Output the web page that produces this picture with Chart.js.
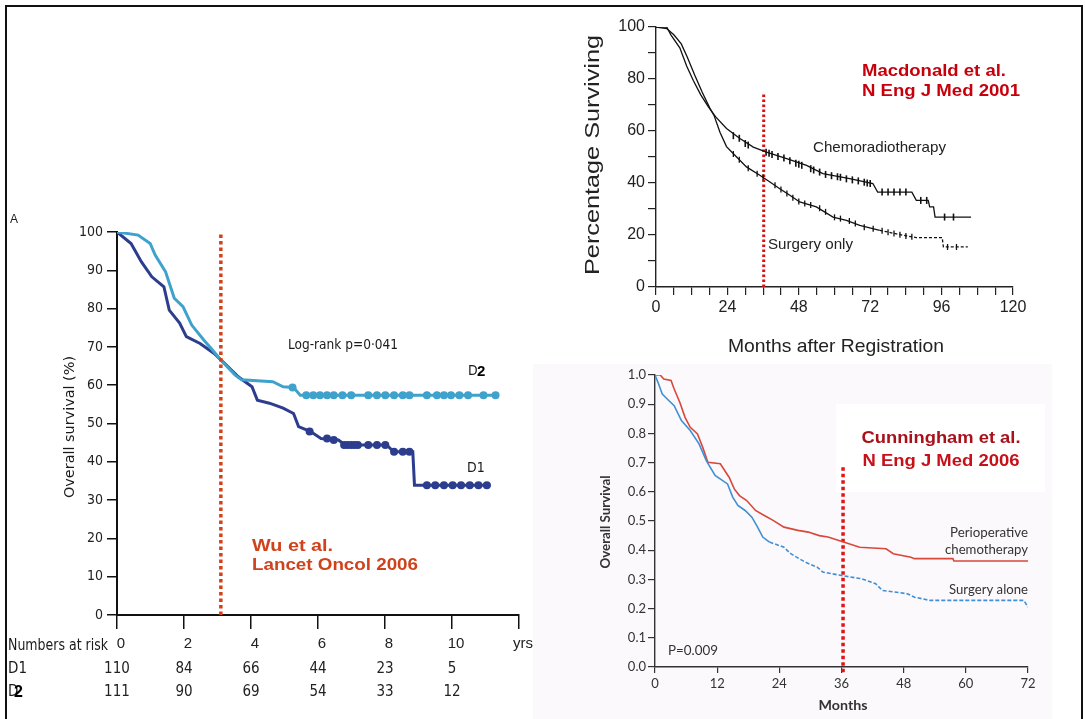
<!DOCTYPE html>
<html lang="en">
<head>
<meta charset="UTF-8">
<title>Gastric cancer survival trials</title>
<script src="https://cdn.jsdelivr.net/npm/chart.js"></script>
<style>
  html, body { margin: 0; padding: 0; background: #fff; }
  #page { position: relative; width: 1085px; height: 719px; overflow: hidden; background: #fff; }
  #frame { position: absolute; left: 5px; top: 5px; width: 1078px; height: 760px; border: 2px solid #111; box-sizing: border-box; }
  #tint { position: absolute; left: 533px; top: 364px; width: 519px; height: 355px; background: #fcf9fc; }
  canvas { position: absolute; }
  #wu { left: 0; top: 200px; }
  #mac { left: 540px; top: 0; }
  #cun { left: 540px; top: 362px; }
</style>
</head>
<body>
<div id="page">
  <div id="tint"></div>
  <canvas id="wu" width="540" height="519"></canvas>
  <canvas id="mac" width="540" height="362"></canvas>
  <canvas id="cun" width="545" height="357"></canvas>
  <div id="frame"></div>
</div>
<script>
// ---------- Wu et al. (years, % surviving) ----------
const wuD1Years = [0, 0.42, 0.73, 1.04, 1.40, 1.56, 1.87, 2.07, 2.48, 2.90, 3.21, 3.62, 4.03, 4.19, 4.55, 4.96, 5.27, 5.42, 5.78, 6.09, 6.61, 6.81, 8.05, 8.26, 8.83, 8.88, 11.15];
const wuD1Surv  = [100, 97, 92.2, 88.3, 85.7, 79.6, 76.2, 72.7, 70.9, 68.3, 65.7, 62.2, 59.6, 56.1, 55.3, 54.0, 52.6, 49.2, 47.9, 46.1, 45.7, 44.4, 44.4, 42.6, 42.6, 33.9, 33.9];
const wuD2Years = [0, 0.63, 0.99, 1.14, 1.45, 1.71, 1.97, 2.23, 2.59, 2.85, 3.10, 3.52, 3.72, 4.65, 4.96, 5.27, 5.47, 11.35];
const wuD2Surv  = [100, 99.2, 97, 94, 89.6, 82.7, 80.5, 75.7, 71.8, 69.2, 66.6, 62.7, 61.4, 60.9, 59.6, 59.4, 57.4, 57.4];
const wuD1CensorYears = [5.75, 6.27, 6.47, 6.78, 6.88, 6.99, 7.09, 7.19, 7.50, 7.76, 8.01, 8.27, 8.53, 8.73, 9.25, 9.50, 9.76, 10.02, 10.27, 10.53, 10.79, 11.04];
const wuD1CensorSurv  = [47.9, 46.1, 45.7, 44.4, 44.4, 44.4, 44.4, 44.4, 44.4, 44.4, 44.4, 42.6, 42.6, 42.6, 33.9, 33.9, 33.9, 33.9, 33.9, 33.9, 33.9, 33.9];
const wuD2CensorYears = [5.24, 5.65, 5.86, 6.06, 6.27, 6.47, 6.73, 6.99, 7.50, 7.76, 8.01, 8.27, 8.53, 8.73, 9.25, 9.55, 9.76, 9.97, 10.22, 10.48, 10.94, 11.30];
const wuD2CensorSurv  = [59.4, 57.4, 57.4, 57.4, 57.4, 57.4, 57.4, 57.4, 57.4, 57.4, 57.4, 57.4, 57.4, 57.4, 57.4, 57.4, 57.4, 57.4, 57.4, 57.4, 57.4, 57.4];
const wuCutYears = [3.1, 3.1];
const wuCutSurv  = [0, 100];
const wuRiskYears = [0, 2, 4, 6, 8, 10];
const wuRiskD1 = [110, 84, 66, 44, 23, 5];
const wuRiskD2 = [111, 90, 69, 54, 33, 12];

// ---------- Macdonald et al. (months, % surviving) ----------
const macChemoMonths = [0, 3.6, 5, 8, 10.3, 12.5, 15, 17.5, 20, 23.7, 28.2, 32.7, 37.1, 43.9, 50.6, 56.1, 65.1, 72.9, 74.5, 86, 87.5, 91.5, 92, 93.3, 93.8, 105.9];
const macChemoSurv   = [100, 100, 97, 92, 85, 79.5, 74, 69.5, 65.5, 61, 57.1, 53.8, 51.9, 49.4, 46.8, 43.6, 41.7, 39.8, 36.5, 36.5, 33.3, 33.3, 30.8, 30.8, 26.9, 26.9];
const macSurgMonths  = [0, 3.6, 6, 8.5, 10.5, 13, 15.5, 18, 19.5, 21.5, 23.7, 27.1, 30.4, 34.9, 38.3, 41.6, 45, 48.3, 53.9, 59.5, 64, 68.5, 75.2, 83, 87.5, 96.2, 96.6, 104.8];
const macSurgSurv    = [100, 99.4, 97, 93.5, 88.5, 81.5, 75, 69, 66, 59.5, 54, 50, 46.2, 43, 40.4, 37.8, 35.3, 32.7, 30.8, 26.9, 25.6, 23.7, 21.8, 19.9, 19, 19, 15.4, 15.4];
const macChemoCensorMonths = [26, 28, 30, 31, 37, 38, 39, 41, 43, 45, 47, 48, 49, 52, 53, 55, 57, 59, 61, 62, 64, 66, 68, 70, 71, 72, 76, 78, 80, 82, 84, 89, 91, 97, 100];
const macChemoCensorSurv   = [58.2, 57.2, 55.2, 54.6, 51.8, 51.4, 51, 50.2, 49.6, 48.6, 47.6, 47.2, 46.8, 45.5, 45, 44.2, 43.3, 42.8, 42.4, 42.2, 41.6, 41.2, 40.8, 40.3, 40, 39.8, 36.5, 36.5, 36.5, 36.5, 36.5, 33.3, 33.3, 26.9, 26.9];
const macSurgCensorMonths = [26, 28, 31, 34, 36, 40, 42, 44, 46, 48, 50, 52, 55, 57, 60, 62, 65, 67, 70, 73, 76, 78, 80, 82, 84, 86, 98, 101];
const macSurgCensorSurv   = [51.2, 48.9, 45.7, 43.6, 42.2, 39.1, 37.5, 36, 34.3, 32.9, 32.1, 31.5, 30.3, 28.9, 26.8, 26.3, 25.4, 24.4, 23, 22.4, 21.6, 21.1, 20.6, 20.1, 19.6, 19.3, 15.4, 15.4];
const macCutMonths = [36.2, 36.2];
const macCutSurv   = [0, 74];

// ---------- Cunningham et al. (months, survival fraction) ----------
const cunPeriMonths = [0, 1.0, 1.7, 3.1, 3.7, 4.8, 5.8, 6.8, 8.2, 9.2, 10.2, 12.6, 14.3, 15.3, 16.3, 17.7, 19.4, 21.1, 22.8, 24.9, 27.6, 29.6, 31.7, 33.4, 36.4, 39.5, 44.6, 46.0, 49.4, 50.1, 57.5, 57.7, 72];
const cunPeriSurv   = [1, 1, 0.986, 0.981, 0.952, 0.906, 0.855, 0.821, 0.798, 0.753, 0.701, 0.696, 0.650, 0.610, 0.587, 0.570, 0.536, 0.519, 0.502, 0.479, 0.468, 0.462, 0.450, 0.445, 0.428, 0.410, 0.405, 0.388, 0.376, 0.371, 0.371, 0.363, 0.363];
const cunSurgMonths = [0, 0.7, 1.4, 2.7, 3.7, 5.1, 6.8, 8.5, 9.9, 11.6, 14.0, 15.0, 16.0, 17.4, 18.7, 19.8, 20.8, 22.1, 24.9, 26.2, 29.0, 31.3, 32.4, 35.8, 39.9, 42.6, 43.9, 48.7, 50.1, 53.1, 71.2, 72];
const cunSurgSurv   = [1, 0.969, 0.935, 0.912, 0.895, 0.844, 0.810, 0.764, 0.707, 0.656, 0.627, 0.582, 0.553, 0.536, 0.513, 0.479, 0.445, 0.428, 0.410, 0.388, 0.359, 0.342, 0.325, 0.314, 0.302, 0.285, 0.262, 0.251, 0.239, 0.228, 0.228, 0.205];
const cunCutMonths = [36.3, 36.3];
const cunCutSurv   = [0.684, -0.027];

const NARROW = '"Liberation Sans Narrow", "DejaVu Sans Condensed", "Liberation Sans", Arial, sans-serif';
const ARIAL = '"Liberation Sans", Arial, sans-serif';
const NEJM = 'Lato, "Open Sans", sans-serif';

const pts = (xs, ys) => xs.map((x, i) => ({ x: x, y: ys[i] }));

function drawText(ctx, t) {
  ctx.save();
  ctx.font = t.font;
  ctx.fillStyle = t.color || '#1a1a1a';
  ctx.textBaseline = 'middle';
  ctx.textAlign = t.align || 'left';
  ctx.translate(t.x, t.y);
  if (t.rot) ctx.rotate(t.rot);
  if (t.w) {
    const m = ctx.measureText(t.text).width;
    ctx.scale(t.w / m, 1);
  }
  ctx.fillText(t.text, 0, 0);
  ctx.restore();
}

// draws boxes before, free texts and at-risk rows after the chart
const notesPlugin = {
  id: 'notes',
  beforeDraw(chart, args, opts) {
    const ctx = chart.ctx;
    (opts.boxes || []).forEach(b => {
      ctx.fillStyle = b.color;
      ctx.fillRect(b.x, b.y, b.w, b.h);
    });
  },
  afterDraw(chart, args, opts) {
    const ctx = chart.ctx;
    (opts.items || []).forEach(t => drawText(ctx, t));
    const risk = opts.risk;
    if (risk) {
      const xs = chart.scales.x;
      risk.rows.forEach(r => {
        risk.years.forEach((yr, i) => {
          drawText(ctx, { text: String(r.values[i]), x: xs.getPixelForValue(yr), y: r.y,
                          font: '15px ' + NARROW, align: 'center', color: '#222' });
        });
      });
    }
  }
};

function fixedAxis(size, isY) {
  return isY ? (s => { s.width = size; }) : (s => { s.height = size; });
}

// ---------- chart A: Wu ----------
const navy = '#2d3d8e';
const cyan = '#3ea2cc';
const orangeRed = '#d4401a';

new Chart(document.getElementById('wu'), {
  type: 'line',
  data: {
    datasets: [
      { data: pts(wuCutYears, wuCutSurv), borderColor: orangeRed, borderWidth: 3.5, borderDash: [3.5, 3], pointRadius: 0 },
      { data: pts(wuD2Years, wuD2Surv), borderColor: cyan, borderWidth: 3, pointRadius: 0, tension: 0 },
      { data: pts(wuD1Years, wuD1Surv), borderColor: navy, borderWidth: 3, pointRadius: 0, tension: 0 },
      { data: pts(wuD2CensorYears, wuD2CensorSurv), showLine: false, pointRadius: 4, pointBackgroundColor: cyan, pointBorderWidth: 0 },
      { data: pts(wuD1CensorYears, wuD1CensorSurv), showLine: false, pointRadius: 4, pointBackgroundColor: navy, pointBorderWidth: 0 }
    ]
  },
  plugins: [notesPlugin],
  options: {
    responsive: false,
    animation: false,
    layout: { padding: { left: 0, top: 32, right: 21, bottom: 64 } },
    plugins: {
      legend: { display: false },
      tooltip: { enabled: false },
      notes: {
        items: [
          { text: 'A', x: 10, y: 20, font: '12px ' + ARIAL },
          { text: 'Overall survival (%)', x: 70, y: 227, rot: -Math.PI / 2, align: 'center', font: '14px ' + NARROW, w: 142 },
          { text: 'Log-rank p=0·041', x: 288, y: 145, font: '14px ' + NARROW, w: 110 },
          { text: 'D', x: 468, y: 171, font: '14px ' + NARROW },
          { text: '2', x: 477, y: 172, font: 'bold 15px ' + ARIAL, color: '#000' },
          { text: 'D1', x: 467, y: 268, font: '14px ' + NARROW },
          { text: 'Wu et al.', x: 252, y: 347, font: 'bold 16px ' + ARIAL, color: '#d0421b', w: 81 },
          { text: 'Lancet Oncol 2006', x: 252, y: 366, font: 'bold 16px ' + ARIAL, color: '#d0421b', w: 166 },
          { text: 'Numbers at risk', x: 8, y: 446, font: '15px ' + NARROW, w: 100 },
          { text: 'D1', x: 8, y: 469, font: '15px ' + NARROW },
          { text: 'D', x: 8, y: 492, font: '15px ' + NARROW },
          { text: '2', x: 14, y: 493, font: 'bold 16px ' + ARIAL, color: '#000' }
        ],
        risk: { years: wuRiskYears, rows: [ { y: 469, values: wuRiskD1 }, { y: 492, values: wuRiskD2 } ] }
      }
    },
    scales: {
      x: {
        type: 'linear', min: 0, max: 12,
        afterFit: fixedAxis(40, false),
        grid: { display: true, drawOnChartArea: false, drawTicks: true, tickLength: 14, color: '#111', lineWidth: 1.5 },
        border: { display: true, color: '#111', width: 2 },
        ticks: { stepSize: 2, labelOffset: 4, padding: 6, color: '#222', font: { size: 15, family: ARIAL },
                 maxRotation: 0, autoSkip: false,
                 callback: v => (v === 12 ? 'yrs' : v) }
      },
      y: {
        min: 0, max: 100,
        afterFit: fixedAxis(117, true),
        grid: { display: true, drawOnChartArea: false, drawTicks: true, tickLength: 10, color: '#111', lineWidth: 1.5 },
        border: { display: true, color: '#111', width: 2 },
        ticks: { stepSize: 10, padding: 4, color: '#222', font: { size: 14, family: NARROW } }
      }
    }
  }
});

// ---------- chart B: Macdonald ----------
new Chart(document.getElementById('mac'), {
  type: 'line',
  data: {
    datasets: [
      { data: pts(macChemoMonths, macChemoSurv), borderColor: '#111', borderWidth: 1.3, pointRadius: 0, tension: 0 },
      { data: pts(macSurgMonths, macSurgSurv), borderColor: '#111', borderWidth: 1.3, pointRadius: 0, tension: 0,
        segment: { borderDash: c => (c.p0.parsed.x >= 75 ? [3, 2] : undefined) } },
      { data: pts(macChemoCensorMonths, macChemoCensorSurv), showLine: false, pointStyle: 'line', rotation: 90,
        pointRadius: 3.5, pointBorderColor: '#111', pointBorderWidth: 1.6 },
      { data: pts(macSurgCensorMonths, macSurgCensorSurv), showLine: false, pointStyle: 'line', rotation: 90,
        pointRadius: 3, pointBorderColor: '#111', pointBorderWidth: 1.3 },
      { data: pts(macCutMonths, macCutSurv), borderColor: '#dd1010', borderWidth: 3, borderDash: [2.5, 2.5], pointRadius: 0 }
    ]
  },
  plugins: [notesPlugin],
  options: {
    responsive: false,
    animation: false,
    layout: { padding: { left: 0, top: 27, right: 67, bottom: 45 } },
    plugins: {
      legend: { display: false },
      tooltip: { enabled: false },
      notes: {
        items: [
          { text: 'Percentage Surviving', x: 53, y: 155, rot: -Math.PI / 2, align: 'center', font: '21px ' + ARIAL, color: '#222', w: 240 },
          { text: 'Months after Registration', x: 296, y: 347, align: 'center', font: '19px ' + ARIAL, color: '#222', w: 216 },
          { text: 'Macdonald et al.', x: 322, y: 72, font: 'bold 16px ' + ARIAL, color: '#c8000c', w: 144 },
          { text: 'N Eng J Med 2001', x: 322, y: 92, font: 'bold 16px ' + ARIAL, color: '#c8000c', w: 158 },
          { text: 'Chemoradiotherapy', x: 273, y: 148, font: '15px ' + ARIAL, color: '#222', w: 133 },
          { text: 'Surgery only', x: 228, y: 245, font: '15px ' + ARIAL, color: '#222', w: 85 }
        ]
      }
    },
    scales: {
      x: {
        type: 'linear', min: 0, max: 120,
        afterFit: fixedAxis(30, false),
        grid: { display: true, drawOnChartArea: false, drawTicks: true, tickLength: 8, color: '#222', lineWidth: 1.2 },
        border: { display: true, color: '#222', width: 1.4 },
        ticks: { stepSize: 6, padding: 3, color: '#222', font: { size: 16, family: ARIAL }, maxRotation: 0, autoSkip: false,
                 callback: v => (v % 24 === 0 ? v : '') }
      },
      y: {
        min: 0, max: 100,
        afterFit: fixedAxis(116, true),
        grid: { display: true, drawOnChartArea: false, drawTicks: true, tickLength: 8, color: '#222', lineWidth: 1.2 },
        border: { display: true, color: '#222', width: 1.4 },
        ticks: { stepSize: 10, padding: 3, color: '#222', font: { size: 16, family: ARIAL }, autoSkip: false,
                 callback: v => (v % 20 === 0 ? v : '') }
      }
    }
  }
});

// ---------- chart C: Cunningham ----------
new Chart(document.getElementById('cun'), {
  type: 'line',
  data: {
    datasets: [
      { data: pts(cunSurgMonths, cunSurgSurv), borderColor: '#3f8fd6', borderWidth: 1.6, pointRadius: 0, tension: 0,
        segment: { borderDash: c => (c.p0.parsed.x >= 22 ? [4, 2] : undefined) } },
      { data: pts(cunPeriMonths, cunPeriSurv), borderColor: '#d8473b', borderWidth: 1.6, pointRadius: 0, tension: 0 },
      { data: pts(cunCutMonths, cunCutSurv), borderColor: '#e01515', borderWidth: 3.5, borderDash: [3.5, 3], pointRadius: 0, clip: false }
    ]
  },
  plugins: [notesPlugin],
  options: {
    responsive: false,
    animation: false,
    layout: { padding: { left: 0, top: 13, right: 57, bottom: 22 } },
    plugins: {
      legend: { display: false },
      tooltip: { enabled: false },
      notes: {
        boxes: [ { x: 296, y: 42, w: 209, h: 88, color: '#ffffff' } ],
        items: [
          { text: 'Overall Survival', x: 66, y: 160, rot: -Math.PI / 2, align: 'center', font: 'bold 13px ' + NEJM, color: '#333', w: 93 },
          { text: 'Months', x: 303, y: 344, align: 'center', font: 'bold 13px ' + NEJM, color: '#333', w: 49 },
          { text: 'P=0.009', x: 128, y: 289, font: '13px ' + NEJM, color: '#333', w: 50 },
          { text: 'Perioperative', x: 488, y: 171, align: 'right', font: '13px ' + NEJM, color: '#333', w: 78 },
          { text: 'chemotherapy', x: 488, y: 188, align: 'right', font: '13px ' + NEJM, color: '#333', w: 83 },
          { text: 'Surgery alone', x: 488, y: 228, align: 'right', font: '13px ' + NEJM, color: '#333', w: 79 },
          { text: 'Cunningham et al.', x: 401, y: 76, align: 'center', font: 'bold 17px ' + ARIAL, color: '#a8101a', w: 159 },
          { text: 'N Eng J Med 2006', x: 401, y: 99, align: 'center', font: 'bold 17px ' + ARIAL, color: '#c8101a', w: 157 }
        ]
      }
    },
    scales: {
      x: {
        type: 'linear', min: 0, max: 72,
        afterFit: fixedAxis(30, false),
        grid: { display: true, drawOnChartArea: false, drawTicks: true, tickLength: 6, color: '#333', lineWidth: 1.2 },
        border: { display: true, color: '#333', width: 1.4 },
        ticks: { stepSize: 12, padding: 3, color: '#333', font: { size: 13, family: NEJM }, maxRotation: 0, autoSkip: false }
      },
      y: {
        min: 0, max: 1,
        afterFit: fixedAxis(115, true),
        grid: { display: true, drawOnChartArea: false, drawTicks: true, tickLength: 7, color: '#333', lineWidth: 1.2 },
        border: { display: true, color: '#333', width: 1.4 },
        ticks: { stepSize: 0.1, padding: 2, color: '#333', font: { size: 13, family: NEJM },
                 callback: v => v.toFixed(1) }
      }
    }
  }
});
</script>
</body>
</html>
